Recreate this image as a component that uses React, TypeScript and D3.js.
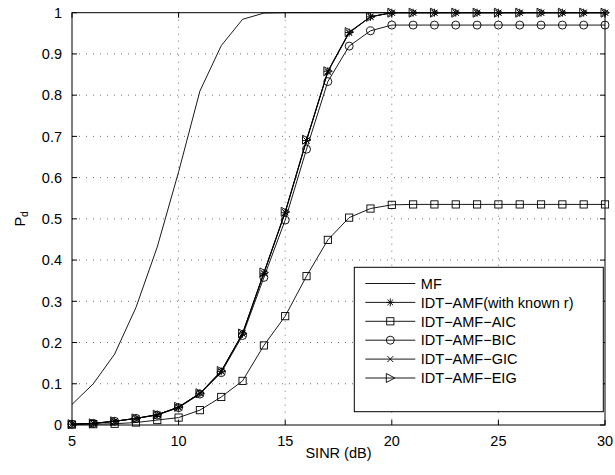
import React, { useEffect, useRef } from "react";
import * as d3 from "d3";

const snr = [5, 6, 7, 8, 9, 10, 11, 12, 13, 14, 15, 16, 17, 18, 19, 20, 21, 22, 23, 24, 25, 26, 27, 28, 29, 30];

const mf = [0.05, 0.1, 0.172, 0.285, 0.432, 0.614, 0.81, 0.92, 0.984, 0.999, 1, 1, 1, 1, 1, 1, 1, 1, 1, 1, 1, 1, 1, 1, 1, 1];
const knownR = [0.002, 0.004, 0.009, 0.016, 0.025, 0.043, 0.077, 0.13, 0.221, 0.368, 0.515, 0.69, 0.858, 0.952, 0.99, 1, 1, 1, 1, 1, 1, 1, 1, 1, 1, 1];
const aic = [0.001, 0.002, 0.003, 0.006, 0.012, 0.018, 0.036, 0.068, 0.107, 0.193, 0.264, 0.361, 0.449, 0.503, 0.525, 0.534, 0.535, 0.535, 0.535, 0.535, 0.535, 0.535, 0.535, 0.535, 0.535, 0.535];
const bic = [0.002, 0.004, 0.009, 0.016, 0.024, 0.042, 0.075, 0.127, 0.217, 0.358, 0.497, 0.669, 0.833, 0.919, 0.956, 0.97, 0.97, 0.97, 0.97, 0.97, 0.97, 0.97, 0.97, 0.97, 0.97, 0.97];
const gic = [0.002, 0.004, 0.009, 0.016, 0.025, 0.043, 0.077, 0.13, 0.222, 0.368, 0.516, 0.69, 0.856, 0.951, 0.99, 1, 1, 1, 1, 1, 1, 1, 1, 1, 1, 1];
const eig = [0.002, 0.004, 0.009, 0.016, 0.025, 0.044, 0.077, 0.131, 0.222, 0.37, 0.517, 0.692, 0.858, 0.953, 0.99, 1, 1, 1, 1, 1, 1, 1, 1, 1, 1, 1];

const xTicks = [5, 10, 15, 20, 25, 30];
const yTicks = [0, 0.1, 0.2, 0.3, 0.4, 0.5, 0.6, 0.7, 0.8, 0.9, 1];

const series = [
  { name: "MF", values: mf, marker: "none" },
  { name: "IDT\u2212AMF(with known r)", values: knownR, marker: "star" },
  { name: "IDT\u2212AMF\u2212AIC", values: aic, marker: "square" },
  { name: "IDT\u2212AMF\u2212BIC", values: bic, marker: "circle" },
  { name: "IDT\u2212AMF\u2212GIC", values: gic, marker: "x" },
  { name: "IDT\u2212AMF\u2212EIG", values: eig, marker: "triangle" },
];

const FONT = "'Liberation Sans', Arial, Helvetica, sans-serif";

// draw one hollow marker centred at (cx, cy)
function drawMarker(g, type, cx, cy) {
  const s = 4;
  if (type === "square") {
    g.append("rect")
      .attr("x", cx - 3.6)
      .attr("y", cy - 3.6)
      .attr("width", 7.2)
      .attr("height", 7.2)
      .attr("fill", "none")
      .attr("stroke", "#000")
      .attr("stroke-width", 0.9);
  } else if (type === "circle") {
    g.append("circle")
      .attr("cx", cx)
      .attr("cy", cy)
      .attr("r", 4)
      .attr("fill", "none")
      .attr("stroke", "#000")
      .attr("stroke-width", 0.9);
  } else if (type === "x") {
    g.append("path")
      .attr("d", `M${cx - 3},${cy - 3}L${cx + 3},${cy + 3}M${cx - 3},${cy + 3}L${cx + 3},${cy - 3}`)
      .attr("stroke", "#000")
      .attr("stroke-width", 0.9);
  } else if (type === "star") {
    const d = s * 0.72;
    g.append("path")
      .attr(
        "d",
        `M${cx - s},${cy}L${cx + s},${cy}M${cx},${cy - s}L${cx},${cy + s}` +
          `M${cx - d},${cy - d}L${cx + d},${cy + d}M${cx - d},${cy + d}L${cx + d},${cy - d}`
      )
      .attr("stroke", "#000")
      .attr("stroke-width", 0.9);
  } else if (type === "triangle") {
    g.append("path")
      .attr("d", `M${cx - 4},${cy - 4.5}L${cx + 4.5},${cy}L${cx - 4},${cy + 4.5}Z`)
      .attr("fill", "none")
      .attr("stroke", "#000")
      .attr("stroke-width", 0.9);
  }
}

export default function App() {
  const svgRef = useRef(null);

  useEffect(() => {
    const W = 615;
    const H = 475;
    const left = 72;
    const right = 605;
    const top = 12.7;
    const bottom = 425;

    const svg = d3.select(svgRef.current);
    svg.selectAll("*").remove();
    svg.attr("width", W).attr("height", H);

    svg.append("rect").attr("width", W).attr("height", H).attr("fill", "#fff");

    const x = d3.scaleLinear().domain([5, 30]).range([left, right]);
    const y = d3.scaleLinear().domain([0, 1]).range([bottom, top]);

    // grid
    const grid = svg.append("g");
    xTicks.slice(1, -1).forEach((t) => {
      grid.append("line")
        .attr("x1", x(t)).attr("x2", x(t))
        .attr("y1", top).attr("y2", bottom)
        .attr("stroke", "#333").attr("stroke-width", 0.7)
        .attr("stroke-dasharray", "1,6");
    });
    yTicks.slice(1, -1).forEach((t) => {
      grid.append("line")
        .attr("x1", left).attr("x2", right)
        .attr("y1", y(t)).attr("y2", y(t))
        .attr("stroke", "#333").attr("stroke-width", 0.7)
        .attr("stroke-dasharray", "1,6");
    });

    // series
    const plot = svg.append("g");
    const line = d3
      .line()
      .x((d) => x(d[0]))
      .y((d) => y(d[1]));

    series.forEach((s) => {
      const pts = snr.map((v, i) => [v, s.values[i]]);
      plot.append("path")
        .attr("d", line(pts))
        .attr("fill", "none")
        .attr("stroke", "#000")
        .attr("stroke-width", 0.9);
      if (s.marker !== "none") {
        pts.forEach((p) => drawMarker(plot, s.marker, x(p[0]), y(p[1])));
      }
    });

    // axes box + inner ticks
    const axes = svg.append("g");
    axes.append("rect")
      .attr("x", left).attr("y", top)
      .attr("width", right - left).attr("height", bottom - top)
      .attr("fill", "none").attr("stroke", "#000").attr("stroke-width", 1);

    const tl = 5;
    xTicks.forEach((t) => {
      axes.append("line")
        .attr("x1", x(t)).attr("x2", x(t))
        .attr("y1", bottom).attr("y2", bottom - tl)
        .attr("stroke", "#000");
      axes.append("line")
        .attr("x1", x(t)).attr("x2", x(t))
        .attr("y1", top).attr("y2", top + tl)
        .attr("stroke", "#000");
      axes.append("text")
        .attr("x", x(t)).attr("y", bottom + 21)
        .attr("text-anchor", "middle")
        .attr("font-family", FONT).attr("font-size", 14.5)
        .text(t);
    });
    yTicks.forEach((t) => {
      axes.append("line")
        .attr("x1", left).attr("x2", left + tl)
        .attr("y1", y(t)).attr("y2", y(t))
        .attr("stroke", "#000");
      axes.append("line")
        .attr("x1", right).attr("x2", right - tl)
        .attr("y1", y(t)).attr("y2", y(t))
        .attr("stroke", "#000");
      axes.append("text")
        .attr("x", left - 10).attr("y", y(t))
        .attr("dy", "0.36em")
        .attr("text-anchor", "end")
        .attr("font-family", FONT).attr("font-size", 14.5)
        .text(d3.format("~g")(t));
    });

    // axis labels
    svg.append("text")
      .attr("x", (left + right) / 2).attr("y", 458)
      .attr("text-anchor", "middle")
      .attr("font-family", FONT).attr("font-size", 14.5)
      .text("SINR (dB)");

    const yl = svg.append("text")
      .attr("transform", `translate(25,${(top + bottom) / 2}) rotate(-90)`)
      .attr("text-anchor", "middle")
      .attr("font-family", FONT).attr("font-size", 14.5);
    yl.append("tspan").text("P");
    yl.append("tspan").attr("font-size", 10.5).attr("dy", 3).text("d");

    // legend
    const lg = svg.append("g");
    const lx = 354.3;
    const ly = 267.3;
    const lw = 249;
    const lh = 144.4;
    lg.append("rect")
      .attr("x", lx).attr("y", ly)
      .attr("width", lw).attr("height", lh)
      .attr("fill", "#fff").attr("stroke", "#000").attr("stroke-width", 1);

    series.forEach((s, i) => {
      const cy = ly + 16.2 + i * 18.9;
      lg.append("line")
        .attr("x1", lx + 11).attr("x2", lx + 61)
        .attr("y1", cy).attr("y2", cy)
        .attr("stroke", "#000").attr("stroke-width", 0.9);
      if (s.marker !== "none") drawMarker(lg, s.marker, lx + 36, cy);
      lg.append("text")
        .attr("x", lx + 66.5).attr("y", cy).attr("dy", "0.36em")
        .attr("font-family", FONT).attr("font-size", 14.5)
        .text(s.name);
    });
  }, []);

  return (
    <div style={{ position: "absolute", left: 0, top: 0 }}>
      <svg ref={svgRef} style={{ display: "block" }}></svg>
    </div>
  );
}
